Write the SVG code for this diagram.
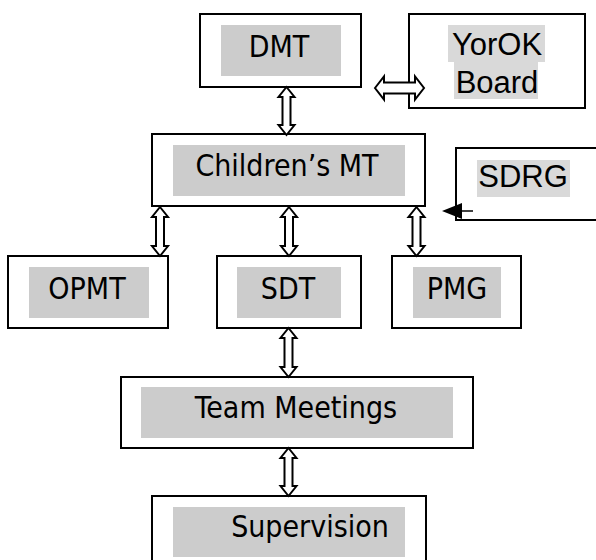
<svg xmlns="http://www.w3.org/2000/svg" width="596" height="560" viewBox="0 0 596 560">
<style>
.box{fill:#fff;stroke:#000;stroke-width:2}
.hl{fill:#cccccc}
.hl2{fill:#d9d9d9}
.t{font-family:"DejaVu Sans Condensed","DejaVu Sans",sans-serif;font-size:30px;fill:#000;text-anchor:middle}
.a{font-family:"Liberation Sans",Arial,sans-serif;font-size:31px;fill:#000;text-anchor:middle}
.arr{fill:#fff;stroke:#000;stroke-width:2;stroke-linejoin:miter}
</style>
<rect width="596" height="560" fill="#fff"/>
<g id="dmt">
<rect class="box" x="200" y="14" width="161" height="73"/>
<rect class="hl" x="221" y="25" width="120" height="51"/>
<text class="t" x="279" y="57">DMT</text>
</g>
<g id="yorok">
<rect class="box" x="409" y="14" width="176" height="94"/>
<rect class="hl2" x="448" y="25" width="97" height="37"/>
<rect class="hl2" x="454" y="62" width="84" height="37"/>
<text class="a" x="497" y="55">YorOK</text>
<text class="a" x="497" y="93">Board</text>
</g>
<g id="childrens-mt">
<rect class="box" x="152" y="134" width="273" height="72"/>
<rect class="hl" x="173" y="145" width="232" height="51"/>
<text class="t" x="287" y="176">Children’s MT</text>
</g>
<g id="sdrg">
<rect class="box" x="456" y="148" width="150" height="72"/>
<rect class="hl2" x="477" y="160" width="93" height="37"/>
<text class="a" x="523" y="187">SDRG</text>
</g>
<g id="opmt">
<rect class="box" x="8" y="256" width="160" height="72"/>
<rect class="hl" x="29" y="267" width="120" height="51"/>
<text class="t" x="87" y="299">OPMT</text>
</g>
<g id="sdt">
<rect class="box" x="217" y="256" width="144" height="72"/>
<rect class="hl" x="237" y="267" width="104" height="51"/>
<text class="t" x="288" y="299">SDT</text>
</g>
<g id="pmg">
<rect class="box" x="392" y="256" width="129" height="72"/>
<rect class="hl" x="413" y="267" width="88" height="51"/>
<text class="t" x="457" y="299">PMG</text>
</g>
<g id="team-meetings">
<rect class="box" x="121" y="377" width="352" height="71"/>
<rect class="hl" x="141" y="387" width="312" height="51"/>
<text class="t" x="296" y="418">Team Meetings</text>
</g>
<g id="supervision">
<rect class="box" x="152" y="496" width="274" height="70"/>
<rect class="hl" x="173" y="507" width="232" height="50"/>
<text class="t" x="310" y="537">Supervision</text>
</g>
<g id="connectors">
<path class="arr" d="M375,88 L384,76.5 L384,82.5 L415,82.5 L415,76.5 L424,88 L415,99.5 L415,93.5 L384,93.5 L384,99.5 Z"/>
<path class="arr" d="M286.5,87 L294.5,97 L290.5,97 L290.5,125 L294.5,125 L286.5,135 L278.5,125 L282.5,125 L282.5,97 L278.5,97 Z"/>
<path class="arr" d="M160,207 L168,217 L164,217 L164,246 L168,246 L160,256 L152,246 L156,246 L156,217 L152,217 Z"/>
<path class="arr" d="M289,207 L297,217 L293,217 L293,246 L297,246 L289,256 L281,246 L285,246 L285,217 L281,217 Z"/>
<path class="arr" d="M416.5,207 L424.5,217 L420.5,217 L420.5,246 L424.5,246 L416.5,256 L408.5,246 L412.5,246 L412.5,217 L408.5,217 Z"/>
<path class="arr" d="M288.5,328 L296.5,338 L292.5,338 L292.5,367 L296.5,367 L288.5,377 L280.5,367 L284.5,367 L284.5,338 L280.5,338 Z"/>
<path class="arr" d="M288.5,448 L296.5,458 L292.5,458 L292.5,486 L296.5,486 L288.5,496 L280.5,486 L284.5,486 L284.5,458 L280.5,458 Z"/>
<line x1="473" y1="211" x2="458" y2="211" stroke="#000" stroke-width="1.5"/>
<path d="M442,211 L462,203 L462,219 Z" fill="#000"/>
</g>
</svg>
